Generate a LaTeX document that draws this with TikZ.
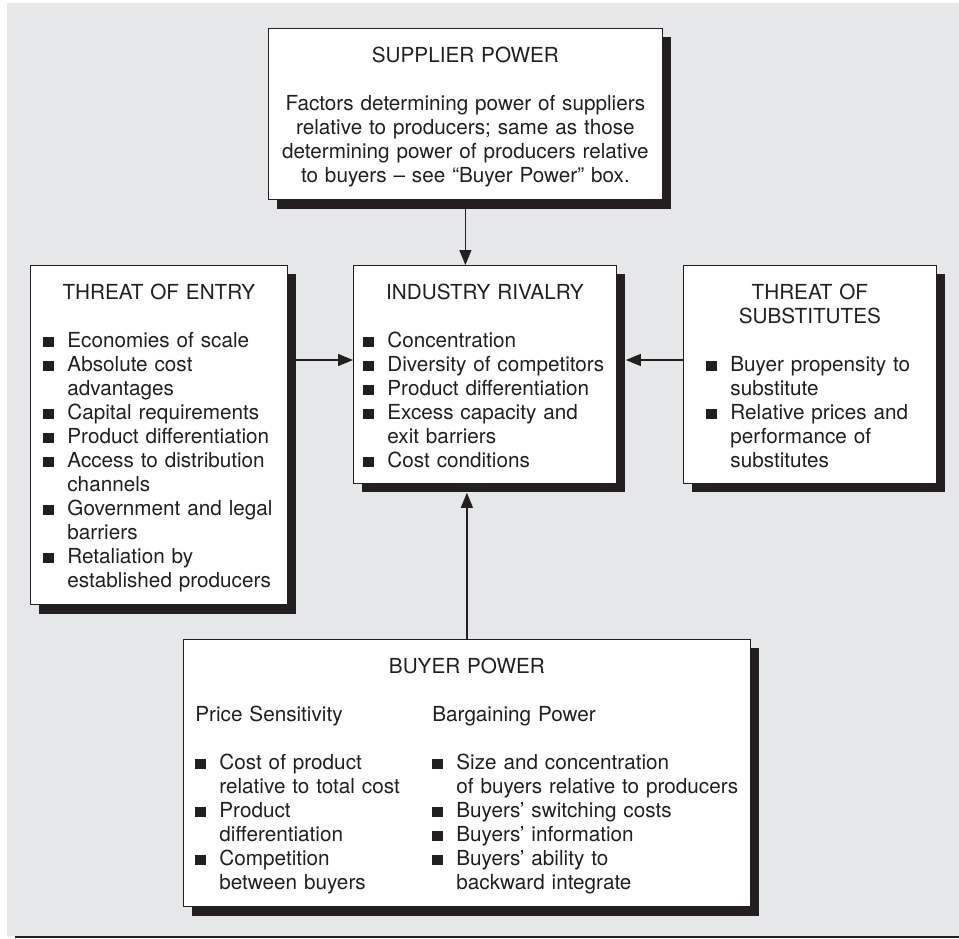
\documentclass[tikz,border=0pt]{standalone}
\usepackage{fontspec}
\setmainfont{TeX Gyre Heros}
\usetikzlibrary{shadows}
\usetikzlibrary{arrows.meta}
\usetikzlibrary{calc}

\definecolor{bg}{HTML}{E6E7E8}
\definecolor{ink}{HTML}{231F20}
\newcommand{\bxtop}{\rule{0pt}{20.8pt}}
\newcommand{\bxbot}{\rule[-3.2pt]{0pt}{3.2pt}}
\newcommand{\bxhead}[1]{\makebox[\linewidth]{\bxtop #1}}
\newcommand{\bxsq}{\makebox[24pt][l]{\rule{10.5pt}{10.5pt}}}
\newcommand{\bxcont}{\hspace*{24pt}}

\begin{document}
\begin{tikzpicture}[x=1pt,y=-1pt]
	\tikzstyle{box}=[draw=ink, line width=0.8pt, fill=white, rectangle,
	anchor=north west, inner xsep=13pt, inner ysep=13pt, align=left,
	text=ink, font=\fontsize{20.7}{24}\selectfont,
	drop shadow={shadow xshift=9pt, shadow yshift=-9pt, fill=ink, opacity=1}]
	\tikzstyle{arr}=[draw=ink, line width=1.3pt, -{Triangle[length=15pt,width=12pt]}]
	\useasboundingbox (0,0) rectangle (959,938);
	\fill[bg] (7,3) rectangle (959,936);
	\draw[ink, line width=1.5pt] (15,937) -- (959,937);
	\coordinate (midrow) at (0,360);

	\node[box, align=center, text width=368pt] (sup) at (268,28) {\bxtop SUPPLIER POWER\\[24pt]
	Factors determining power of suppliers\\
	relative to producers; same as those\\
	determining power of producers relative\\
	to buyers – see “Buyer Power” box.\bxbot};

	\node[box, text width=231pt] (ent) at (30,265) {\bxhead{THREAT OF ENTRY}\\[24pt]
	\bxsq Economies of scale\\
	\bxsq Absolute cost\\
	\bxcont advantages\\
	\bxsq Capital requirements\\
	\bxsq Product differentiation\\
	\bxsq Access to distribution\\
	\bxcont channels\\
	\bxsq Government and legal\\
	\bxcont barriers\\
	\bxsq Retaliation by\\
	\bxcont established producers\bxbot};

	\node[box, inner xsep=10pt, text width=243pt] (riv) at (353,265) {\bxhead{INDUSTRY RIVALRY}\\[24pt]
	\bxsq Concentration\\
	\bxsq Diversity of competitors\\
	\bxsq Product differentiation\\
	\bxsq Excess capacity and\\
	\bxcont exit barriers\\
	\bxsq Cost conditions\bxbot};

	\node[box, inner xsep=23pt, text width=207pt] (sub) at (683,265) {\bxhead{THREAT OF}\\
	\bxhead{SUBSTITUTES}\\[24pt]
	\bxsq Buyer propensity to\\
	\bxcont substitute\\
	\bxsq Relative prices and\\
	\bxcont performance of\\
	\bxcont substitutes\bxbot};

	\node[box, inner xsep=12pt, text width=543pt] (buy) at (183,639) {\bxhead{BUYER POWER}\\[24pt]
	\makebox[237pt][l]{Price Sensitivity}Bargaining Power\\[24pt]
	\makebox[237pt][l]{\bxsq Cost of product}\bxsq Size and concentration\\
	\makebox[237pt][l]{\bxcont relative to total cost}\bxcont of buyers relative to producers\\
	\makebox[237pt][l]{\bxsq Product}\bxsq Buyers’ switching costs\\
	\makebox[237pt][l]{\bxcont differentiation}\bxsq Buyers’ information\\
	\makebox[237pt][l]{\bxsq Competition}\bxsq Buyers’ ability to\\
	\makebox[237pt][l]{\bxcont between buyers}\bxcont backward integrate\bxbot};

	\draw[arr] (sup.south) -- (sup.south |- riv.north);
	\draw[arr] (ent.east |- midrow) -- (riv.west |- midrow);
	\draw[arr] (sub.west |- midrow) -- ([xshift=9pt]riv.east |- midrow);
	\draw[arr] (buy.north) -- ([yshift=-9pt]riv.south -| buy.north);
\end{tikzpicture}
\end{document}
